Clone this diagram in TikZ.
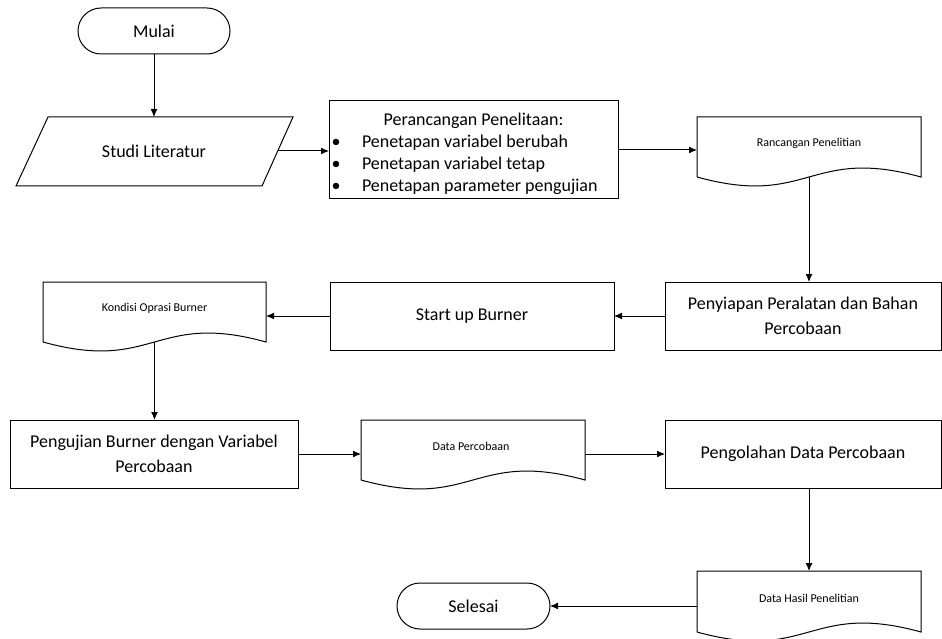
\documentclass[tikz,border=0pt]{standalone}
\usepackage{fontspec}
\setmainfont{Carlito}
\usetikzlibrary{arrows.meta,calc}
\newcommand\mydocshape[1]{%
  \draw[ln] (#1.south west) -- (#1.north west) -- (#1.north east) -- (#1.south east)
    .. controls ($(#1.south)+(0,-31)$) and ($(#1.south)+(0,31)$) .. (#1.south west);}
\begin{document}
\begin{tikzpicture}[x=1pt,y=-1pt,
  every node/.style={inner sep=0pt,outer sep=0pt},
  ln/.style={line width=1pt, draw=black},
  arr/.style={line width=1pt,-{Latex[length=8pt,width=7pt]}},
  big/.style={font=\fontsize{18}{25}\selectfont},
  procbox/.style={ln, rectangle, big, align=center},
  term/.style={ln, rectangle, rounded corners=23pt, big, minimum height=46pt},
  doclabel/.style={font=\fontsize{12}{14}\selectfont},
  docarea/.style={rectangle, minimum width=224pt, minimum height=60pt}
]
\useasboundingbox (0,0) rectangle (942,639);

% Start
\node[term, minimum width=152pt] (mulai) at (154,31) {Mulai};

% Studi Literatur (parallelogram)
\draw[ln] (48,117) -- (293,117) -- (262,186) -- (16,186) -- cycle;
\node[big] (studi) at (154,151) {Studi Literatur};
\coordinate (studiT) at (154,117);
\coordinate (studiR) at (278,151);

% Perancangan
\node[ln, rectangle, minimum width=289pt, minimum height=98pt] (perancangan) at (473.5,150) {};
\node[big, anchor=base] (pt0) at (473.5,126) {Perancangan Penelitaan:};
\node[big, anchor=base] (pb1) at (336,148) {\textbullet};
\node[big, anchor=base] (pb2) at (336,170) {\textbullet};
\node[big, anchor=base] (pb3) at (336,192) {\textbullet};
\node[big, anchor=base west] (pt1) at (362,148) {Penetapan variabel berubah};
\node[big, anchor=base west] (pt2) at (362,170) {Penetapan variabel tetap};
\node[big, anchor=base west] (pt3) at (362,192) {Penetapan parameter pengujian};

% Rancangan Penelitian (document)
\node[docarea] (rancangan) at (809,147) {};
\mydocshape{rancangan}
\node[doclabel] (rancanganT) at (809,143) {Rancangan Penelitian};
\coordinate (rancanganB) at (809,177);

% Row 2
\node[procbox, minimum width=276pt, minimum height=68pt] (penyiapan) at (803,316) {Penyiapan Peralatan dan Bahan\\Percobaan};
\node[procbox, minimum width=284pt, minimum height=68pt] (startup) at (472,316) {Start up Burner};
\node[docarea, minimum width=223pt] (kondisi) at (154.5,312) {};
\mydocshape{kondisi}
\node[doclabel] (kondisiT) at (154.5,308) {Kondisi Oprasi Burner};
\coordinate (kondisiB) at (154.5,342);

% Row 3
\node[procbox, minimum width=288pt, minimum height=68pt] (pengujian) at (154,454) {Pengujian Burner dengan Variabel\\Percobaan};
\node[docarea] (datap) at (473,450) {};
\mydocshape{datap}
\node[doclabel] (datapT) at (471,446) {Data Percobaan};
\node[procbox, minimum width=276pt, minimum height=68pt] (pengolahan) at (803,454) {Pengolahan Data Percobaan};

% Row 4
\node[docarea, minimum height=61pt] (datah) at (809,601.5) {};
\mydocshape{datah}
\node[doclabel] (datahT) at (809,598) {Data Hasil Penelitian};
\node[term, minimum width=153pt] (selesai) at (473.5,606) {Selesai};

% Connectors
\draw[arr] (mulai.south) -- (studiT);
\draw[arr] (studiR) -- (studiR -| perancangan.west);
\draw[arr] (perancangan.east) -- (perancangan.east -| rancangan.west);
\draw[arr] (rancanganB) -- (rancanganB |- penyiapan.north);
\draw[arr] (penyiapan.west) -- (penyiapan.west -| startup.east);
\draw[arr] (startup.west) -- (startup.west -| kondisi.east);
\draw[arr] (kondisiB) -- (kondisiB |- pengujian.north);
\draw[arr] (pengujian.east) -- (pengujian.east -| datap.west);
\draw[arr] (pengolahan.west -| datap.east) -- (pengolahan.west);
\draw[arr] (datah.north |- pengolahan.south) -- (datah.north);
\draw[arr] (selesai.east -| datah.west) -- (selesai.east);
\end{tikzpicture}
\end{document}
